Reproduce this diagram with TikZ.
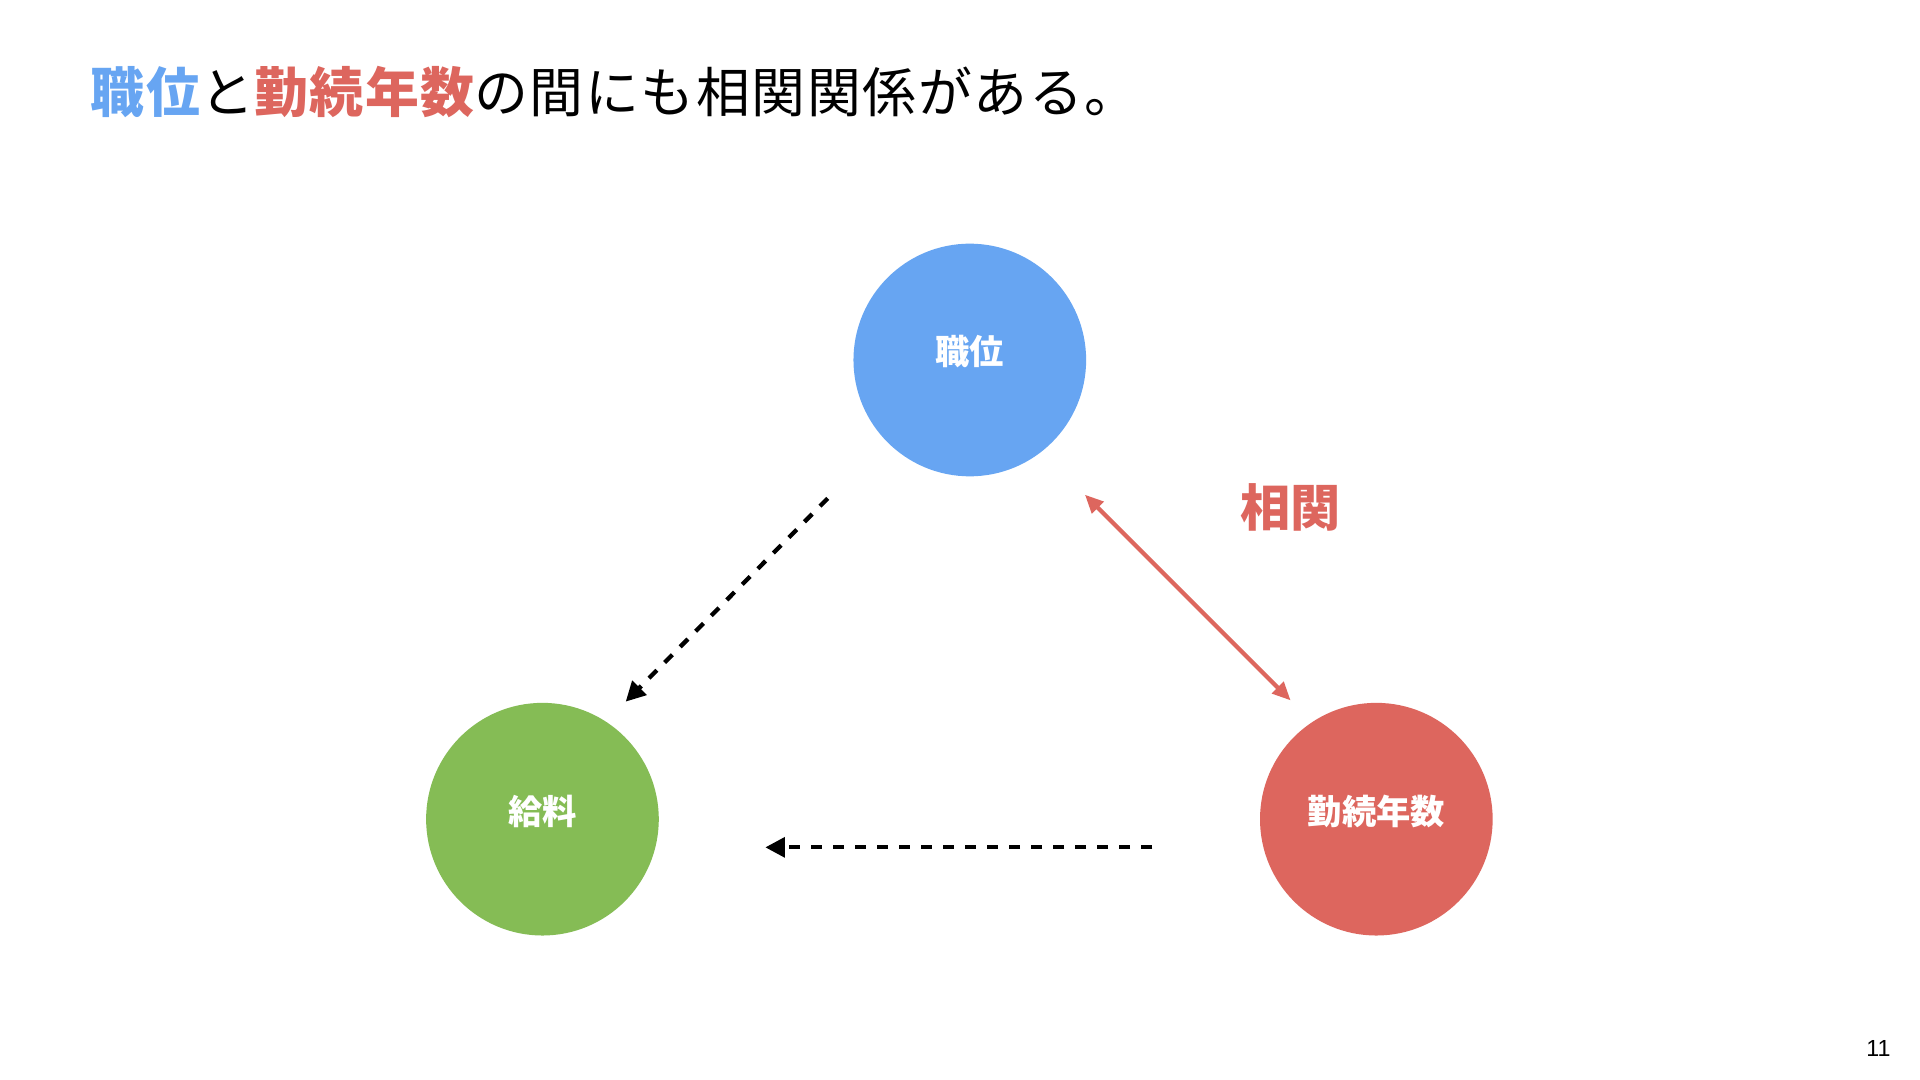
\documentclass[tikz,border=0pt]{standalone}
\usepackage{fontspec}
\newfontfamily\jp{Noto Sans CJK JP}
\newfontfamily\jpwide{Noto Sans CJK JP}[LetterSpace=3]
\setmainfont{Liberation Sans}
\usetikzlibrary{arrows.meta}
\definecolor{cblue}{HTML}{67A5F2}
\definecolor{cgreen}{HTML}{85BC55}
\definecolor{cred}{HTML}{DD665E}
\tikzset{
  circ/.style={circle, minimum size=190pt, inner sep=0pt, draw=none},
  lbl/.style={text=white, font=\jp\bfseries\fontsize{28}{28}\selectfont, inner sep=0pt, anchor=base},
  dasharrow/.style={line width=3.5pt, black, dash pattern=on 9pt off 9pt, -{Triangle[length=16pt,width=16pt]}},
  redarrow/.style={line width=3.5pt, cred, {Triangle[length=15pt,width=13pt]}-{Triangle[length=15pt,width=13pt]}}
}
\begin{document}
\begin{tikzpicture}[x=1pt,y=-1pt]
\useasboundingbox[fill=white] (0,0) rectangle (1568,882);
% title
\node[anchor=base west, inner sep=0pt, font=\jpwide\fontsize{44}{44}\selectfont] (title) at (74,92)
  {{\bfseries\color{cblue}職位}と{\bfseries\color{cred}勤続年数}の間にも相関関係がある。};
% circles
\node[circ, fill=cblue] (pos) at (792,294) {};
\node[circ, fill=cgreen] (sal) at (443,669) {};
\node[circ, fill=cred] (yrs) at (1124,669) {};
\node[lbl] (posl) at (792,298) {職位};
\node[lbl] (sall) at (443,673) {給料};
\node[lbl] (yrsl) at (1124,673) {勤続年数};
% correlation label
\node[text=cred, font=\jp\bfseries\fontsize{41}{41}\selectfont, inner sep=0pt] (corr) at (1054,414) {相関};
% connector endpoints
\coordinate (a1) at (676,407);
\coordinate (a2) at (511,573);
\coordinate (b1) at (941,692);
\coordinate (b2) at (625,692);
\coordinate (c1) at (886,404);
\coordinate (c2) at (1054,572);
\draw[dasharrow] (a1) -- (a2);
\draw[dasharrow] (b1) -- (b2);
\draw[redarrow] (c1) -- (c2);
% page number
\node[font=\fontsize{19}{19}\selectfont, inner sep=0pt, anchor=base] (pg) at (1534,863) {11};
\end{tikzpicture}
\end{document}
